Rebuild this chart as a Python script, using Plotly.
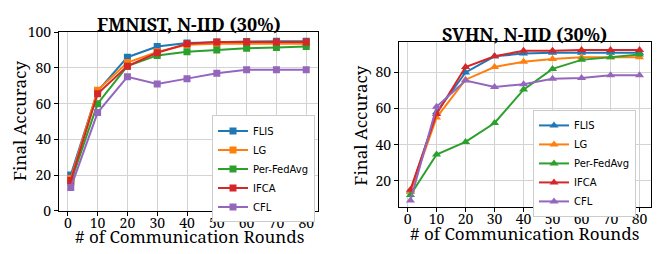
import plotly.graph_objects as go

rounds = [1, 10, 20, 30, 40, 50, 60, 70, 80]
methods = ["FLIS", "LG", "Per-FedAvg", "IFCA", "CFL"]
colors = ["#1f77b4", "#ff7f0e", "#2ca02c", "#d62728", "#9467bd"]

fmnist_flis = [20, 67, 86, 92, 94, 94.5, 94.8, 95, 95]
fmnist_lg = [18, 67.5, 83, 89, 93, 93.5, 93.5, 93.5, 93.5]
fmnist_perfedavg = [16, 60, 81, 87, 89, 90, 91, 91.5, 92]
fmnist_ifca = [17, 65.5, 81, 88.5, 93.5, 94.5, 94.5, 94.5, 94.5]
fmnist_cfl = [13, 55, 75, 71, 74, 77, 79, 79, 79]

svhn_flis = [14, 58, 80, 89, 90.5, 91, 91, 91, 91]
svhn_lg = [14, 55, 76, 83, 86, 87.5, 88.5, 88.5, 88.5]
svhn_perfedavg = [12, 34.5, 41.5, 52, 70.5, 82, 87, 88.5, 90]
svhn_ifca = [15, 57, 83, 89, 92, 92, 92.5, 92.5, 92.5]
svhn_cfl = [9, 61, 75.5, 72, 73.5, 76.5, 77, 78.5, 78.5]

fmnist = [fmnist_flis, fmnist_lg, fmnist_perfedavg, fmnist_ifca, fmnist_cfl]
svhn = [svhn_flis, svhn_lg, svhn_perfedavg, svhn_ifca, svhn_cfl]

W, H = 672, 254
fig = go.Figure()

for name, col, ys in zip(methods, colors, fmnist):
    fig.add_trace(go.Scatter(x=rounds, y=ys, name=name, mode="lines+markers",
                             line=dict(color=col, width=2),
                             marker=dict(symbol="square", size=7, color=col),
                             xaxis="x", yaxis="y", legend="legend"))
for name, col, ys in zip(methods, colors, svhn):
    fig.add_trace(go.Scatter(x=rounds, y=ys, name=name, mode="lines+markers",
                             line=dict(color=col, width=2),
                             marker=dict(symbol="triangle-up", size=8, color=col),
                             xaxis="x2", yaxis="y2", legend="legend2"))

serif = "Noto Serif, DejaVu Serif, Liberation Serif, serif"
tickfont = dict(family=serif, size=14, color="black")
grid = "#d3d3d3"
xticks = [0, 10, 20, 30, 40, 50, 60, 70, 80]

def px(x):
    return x / W

def py(y):
    return 1 - y / H

axis_common = dict(showline=True, linecolor="black", linewidth=1, mirror=True,
                   ticks="outside", ticklen=4, tickcolor="black",
                   showgrid=True, gridcolor=grid, gridwidth=1,
                   zeroline=False, tickfont=tickfont)

legend_common = dict(xanchor="left", yanchor="top",
                     bgcolor="white", bordercolor="#cccccc", borderwidth=1,
                     font=dict(family="DejaVu Sans", size=10, color="black"),
                     itemwidth=30, tracegroupgap=0)

fig.update_layout(
    width=W, height=H,
    margin=dict(l=0, r=0, t=0, b=0),
    paper_bgcolor="white", plot_bgcolor="white",
    showlegend=True,
    xaxis=dict(domain=[px(59), px(318)], range=[-2.95, 83.95], tickvals=xticks,
               anchor="y", ticklabelstandoff=-5, **axis_common),
    yaxis=dict(domain=[py(217), py(24)], range=[0, 100], tickvals=[0, 20, 40, 60, 80, 100],
               anchor="x", **axis_common),
    xaxis2=dict(domain=[px(399), px(651)], range=[-2.95, 83.95], tickvals=xticks,
                anchor="y2", ticklabelstandoff=-5, **axis_common),
    yaxis2=dict(domain=[py(213.3), py(35)], range=[5.2, 96.7], tickvals=[20, 40, 60, 80],
                anchor="x2", **axis_common),
    legend=dict(x=px(212), y=py(114), **legend_common),
    legend2=dict(x=px(533), y=py(108), **legend_common),
)

ann = [
    dict(text="<b>FMNIST, N-IID (30%)</b>", x=px(189), y=py(15), size=18, angle=0),
    dict(text="<b>SVHN, N-IID (30%)</b>", x=px(524), y=py(26), size=18, angle=0),
    dict(text="Final Accuracy", x=px(19), y=py(120), size=17, angle=-90),
    dict(text="Final Accuracy", x=px(361), y=py(125), size=17, angle=-90),
    dict(text="# of Communication Rounds", x=px(189), y=py(245), size=17, angle=0),
    dict(text="# of Communication Rounds", x=px(524), y=py(242), size=17, angle=0),
]
for a in ann:
    fig.add_annotation(text=a["text"], x=a["x"], y=a["y"], xref="paper", yref="paper",
                       xanchor="center", yanchor="middle", showarrow=False,
                       textangle=a["angle"],
                       font=dict(family=serif, size=a["size"], color="black"))

fig.write_html("out.html", config={"displayModeBar": False},
               post_script="document.body.style.margin='0';document.body.style.padding='0';")
